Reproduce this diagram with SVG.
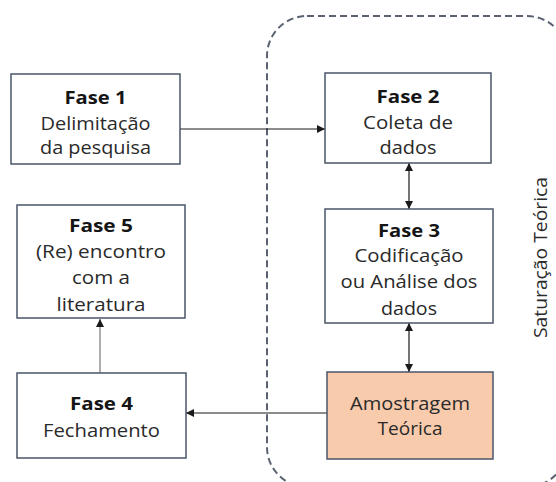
<svg xmlns="http://www.w3.org/2000/svg" width="556" height="482" viewBox="0 0 556 482">
<style>
.box{fill:#ffffff;stroke:#4a5568;stroke-width:1.5}
.hl{fill:#f8cbad;stroke:#4a5568;stroke-width:1.5}
text{font-family:"Open Sans","Liberation Sans",sans-serif;font-size:18px;fill:#2a2a2a;text-anchor:middle}
.b{font-weight:bold;fill:#151515}
.con{stroke:#1a1a1a;stroke-width:1.2;fill:none}
.gray{stroke:#8a8a8a;stroke-width:1.4;fill:none}
</style>
<defs>
<marker id="ah" viewBox="0 0 10 10" refX="10" refY="5" markerWidth="9" markerHeight="8" markerUnits="userSpaceOnUse" orient="auto-start-reverse">
<path d="M0,0 L10,5 L0,10 z" fill="#1a1a1a"/>
</marker>
</defs>
<rect x="267" y="16" width="300" height="471" rx="40" ry="40" fill="none" stroke="#5a6272" stroke-width="2" stroke-dasharray="7,4"/>
<text x="547" y="257.5" transform="rotate(-90 547 257.5)" textLength="161" lengthAdjust="spacingAndGlyphs">Saturação Teórica</text>
<g id="connectors">
<line class="con" x1="180" y1="129" x2="325" y2="129" marker-end="url(#ah)"/>
<line class="con" x1="409" y1="163" x2="409" y2="209" marker-start="url(#ah)" marker-end="url(#ah)"/>
<line class="con" x1="409" y1="323" x2="409" y2="372" marker-start="url(#ah)" marker-end="url(#ah)"/>
<line class="con" x1="327" y1="413" x2="186" y2="413" marker-end="url(#ah)"/>
<line class="gray" x1="100" y1="373" x2="100" y2="319" marker-end="url(#ah)"/>
</g>
<g id="fase1">
<rect class="box" x="11" y="74" width="169" height="90"/>
<text class="b" x="95.5" y="104" textLength="62" lengthAdjust="spacingAndGlyphs">Fase 1</text>
<text x="95.5" y="130" textLength="110" lengthAdjust="spacingAndGlyphs">Delimitação</text>
<text x="95.5" y="154" textLength="111" lengthAdjust="spacingAndGlyphs">da pesquisa</text>
</g>
<g id="fase2">
<rect class="box" x="325" y="73" width="166" height="90"/>
<text class="b" x="408" y="103" textLength="63" lengthAdjust="spacingAndGlyphs">Fase 2</text>
<text x="408" y="129" textLength="90" lengthAdjust="spacingAndGlyphs">Coleta de</text>
<text x="408" y="154" textLength="57" lengthAdjust="spacingAndGlyphs">dados</text>
</g>
<g id="fase3">
<rect class="box" x="325" y="209" width="168" height="114"/>
<text class="b" x="409" y="237" textLength="62" lengthAdjust="spacingAndGlyphs">Fase 3</text>
<text x="409" y="262" textLength="109" lengthAdjust="spacingAndGlyphs">Codificação</text>
<text x="409" y="288" textLength="137" lengthAdjust="spacingAndGlyphs">ou Análise dos</text>
<text x="409" y="315" textLength="56" lengthAdjust="spacingAndGlyphs">dados</text>
</g>
<g id="amostragem">
<rect class="hl" x="327" y="372" width="166" height="87"/>
<text x="410" y="410" textLength="120" lengthAdjust="spacingAndGlyphs">Amostragem</text>
<text x="410" y="435" textLength="65" lengthAdjust="spacingAndGlyphs">Teórica</text>
</g>
<g id="fase4">
<rect class="box" x="17" y="373" width="169" height="85"/>
<text class="b" x="101.5" y="410" textLength="63" lengthAdjust="spacingAndGlyphs">Fase 4</text>
<text x="101.5" y="437" textLength="117" lengthAdjust="spacingAndGlyphs">Fechamento</text>
</g>
<g id="fase5">
<rect class="box" x="17" y="205" width="168" height="113"/>
<text class="b" x="101" y="232" textLength="64" lengthAdjust="spacingAndGlyphs">Fase 5</text>
<text x="101" y="258" textLength="130" lengthAdjust="spacingAndGlyphs">(Re) encontro</text>
<text x="101" y="284" textLength="58" lengthAdjust="spacingAndGlyphs">com a</text>
<text x="101" y="311" textLength="89" lengthAdjust="spacingAndGlyphs">literatura</text>
</g>
</svg>
